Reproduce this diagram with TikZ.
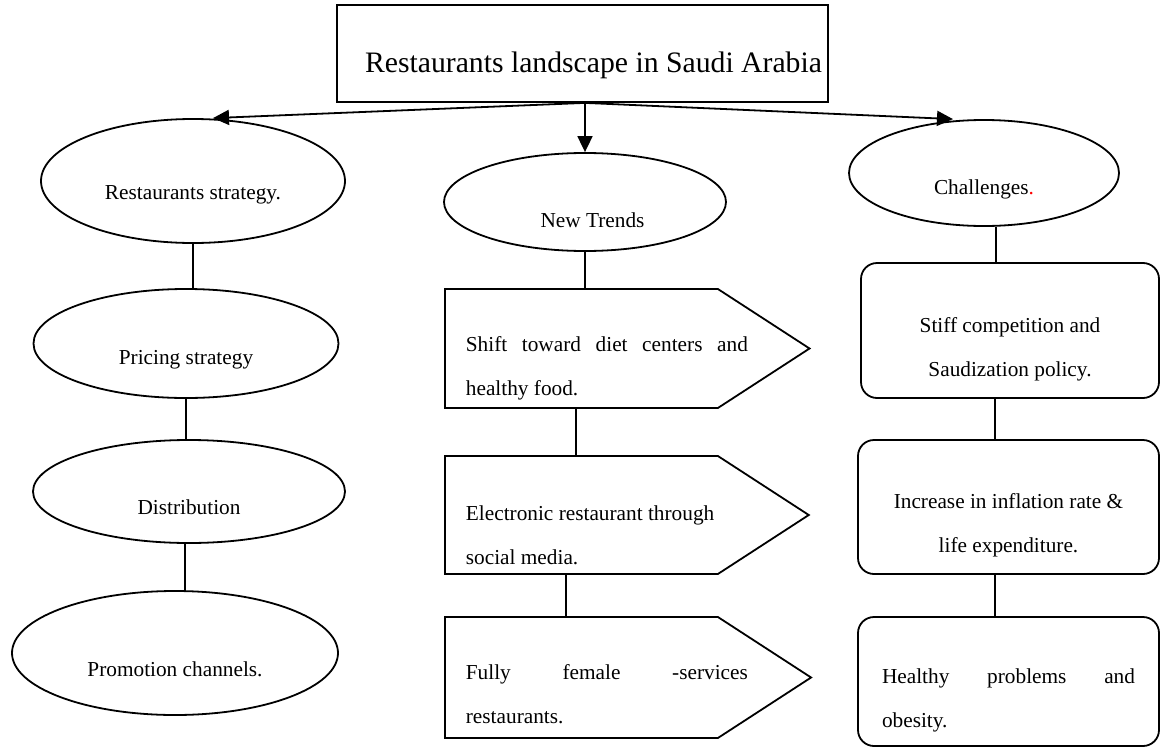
\documentclass[tikz,border=0pt]{standalone}
\usepackage{fontspec}
\setmainfont{Liberation Serif}
\usetikzlibrary{shapes,arrows.meta,calc}
\newcommand{\mytextfont}{\fontsize{21.3}{44}\selectfont\hyphenpenalty=10000 }
\newcommand{\mytitlefont}{\fontsize{29.7}{36}\selectfont}
\newcommand{\pentxt}[1]{\makebox[273pt][l]{\hspace*{21pt}\parbox[t]{282pt}{#1}}}

\begin{document}
\begin{tikzpicture}[x=1pt,y=-1pt,line width=1.8pt,
            oval/.style={ellipse, draw, inner sep=0pt, font=\mytextfont},
            sign/.style={signal, signal to=east, signal pointer angle=66, draw,
                inner sep=0pt, font=\mytextfont},
            rbox/.style={rectangle, rounded corners=16pt, draw, inner sep=0pt,
                font=\mytextfont},
            drop/.style={text height=#1, text depth=0pt},
            myarrow/.style={-{Triangle[length=16pt,width=15pt]}}]

            \useasboundingbox (0,0) rectangle (1160,747);

            \node [draw,inner sep=0pt,minimum width=491pt,minimum height=97pt,
                font=\mytitlefont,drop=37pt] (title) at (582.5,53.5)
                {\hspace*{22pt}Restaurants landscape in Saudi Arabia};

            \node [oval,minimum width=304pt,minimum height=124pt,drop=36pt] (strat) at (193,181) {Restaurants strategy.};
            \node [oval,minimum width=305pt,minimum height=109pt,drop=41pt] (price) at (186,343.5) {Pricing strategy};
            \node [oval,minimum width=312pt,minimum height=103pt,drop=45pt] (distr) at (189,491.5) {Distribution};
            \node [oval,minimum width=326pt,minimum height=124pt,drop=46pt] (promo) at (175,653) {Promotion channels.};

            \node [oval,minimum width=282pt,minimum height=98pt,drop=50pt] (trends) at (585,202) {\hspace*{15pt}New Trends};
            \node [sign,anchor=west,minimum height=119pt,drop=5pt] (shift) at (444,348.5)
                {\pentxt{Shift toward diet centers and healthy food.}};
            \node [sign,anchor=west,minimum height=118pt,drop=10pt] (elec) at (444,515)
                {\pentxt{\raggedright Electronic restaurant through social media.}};
            \node [sign,anchor=west,minimum height=121pt,drop=3pt] (female) at (444,677.5)
                {\pentxt{Fully female \mbox{-services} restaurants.}};

            \node [oval,minimum width=270pt,minimum height=106pt,drop=42pt] (chall) at (984,173) {Challenges\textcolor{red}{.}};
            \node [rbox,minimum width=298pt,minimum height=135pt,text width=280pt,align=flush center,drop=3pt] (stiff) at (1010,330.5)
                {Stiff competition and\\Saudization policy.};
            \node [rbox,minimum width=301pt,minimum height=134pt,text width=280pt,align=flush center,drop=2pt] (infl) at (1008.5,507)
                {Increase in inflation rate \&\\life expenditure.};
            \node [rbox,minimum width=301pt,minimum height=129pt,text width=253pt,align=justify,drop=3pt] (obes) at (1008.5,681.5)
                {Healthy problems and obesity.};

            \draw [myarrow] (title.south -| trends.north) -- ([xshift=20pt]strat.north);
            \draw [myarrow] (title.south -| trends.north) -- (trends.north);
            \draw [myarrow] (title.south -| trends.north) -- ([xshift=-31pt]chall.north);

            \draw (strat.south) -- (strat.south |- price.north);
            \draw (price.south) -- (price.south |- distr.north);
            \draw ([xshift=-4pt]distr.south) -- ([xshift=-4pt]distr.south |- promo.north);

            \draw (trends.south) -- (trends.south |- shift.north);
            \draw ($(shift.south west)+(132,0)$) -- ($(elec.north west)+(132,0)$);
            \draw ($(elec.south west)+(122,0)$) -- ($(female.north west)+(122,0)$);

            \draw ([xshift=12pt]chall.south) -- ([xshift=12pt]chall.south |- stiff.north);
            \draw ([xshift=-15pt]stiff.south) -- ([xshift=-15pt]stiff.south |- infl.north);
            \draw ([xshift=-13.5pt]infl.south) -- ([xshift=-13.5pt]infl.south |- obes.north);
\end{tikzpicture}
\end{document}
